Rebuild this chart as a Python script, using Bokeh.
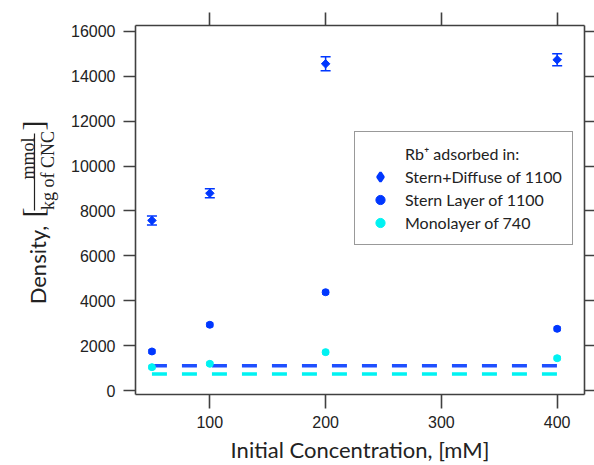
import math
from bokeh.plotting import figure
from bokeh.layouts import row
from bokeh.models import (Range1d, LinearAxis, FixedTicker, ColumnDataSource, Whisker,
                          TeeHead, Legend, LegendItem, CustomJSTickFormatter)
from bokeh.core.properties import value
from bokeh.embed import file_html
from bokeh.resources import INLINE

# ---- data ----
conc = [50, 100, 200, 400]                      # Initial concentration, mM
stern_diffuse = [7580, 8790, 14560, 14740]      # Stern+Diffuse of 1100
stern_diffuse_err = [200, 200, 310, 270]
stern_layer = [1740, 2930, 4380, 2750]          # Stern Layer of 1100
stern_layer_err = [80, 80, 80, 80]
monolayer = [1040, 1190, 1710, 1440]            # Monolayer of 740
monolayer_err = [70, 70, 70, 70]
stern_capacity = 1100
mono_capacity = 740
x_ticks = [100, 200, 300, 400]
y_ticks = [0, 2000, 4000, 6000, 8000, 10000, 12000, 14000, 16000]

legend_title = "Rb\u207a adsorbed in:"
legend_labels = ["Stern+Diffuse of 1100", "Stern Layer of 1100", "Monolayer of 740"]
x_title = "Initial Concentration, [mM]"
y_title_main = "Density,"
y_title_num = "mmol"
y_title_den = "kg of CNC"

BLUE = "#0037ff"
BLUE_LINE = "#1f4fff"
CYAN = "#00f2f2"
AXIS = "#404040"
TEXT = "#222222"

H = 465
LW = 60
TOP, BOTTOM = 25, 71          # borders above / below the plotting frame

# ---------------- main plot ----------------
p = figure(width=534, height=H, output_backend="svg", toolbar_location=None,
           x_range=Range1d(35.8, 423.6), y_range=Range1d(-178, 16267),
           min_border_left=75, min_border_right=0, min_border_top=TOP,
           min_border_bottom=BOTTOM, x_axis_location=None, y_axis_location=None)
p.grid.visible = False
p.outline_line_color = None
p.background_fill_color = "white"
p.border_fill_color = "white"

blank = CustomJSTickFormatter(code="return ''")


def style(ax, tick_out, show_labels=True, standoff=8):
    ax.axis_line_color = AXIS
    ax.axis_line_width = 1.6
    ax.major_tick_line_color = AXIS
    ax.major_tick_line_width = 1.6
    ax.major_tick_out = tick_out
    ax.major_tick_in = 0
    ax.minor_tick_line_color = None
    ax.major_label_text_font = "Liberation Sans"
    ax.major_label_text_color = TEXT
    if show_labels:
        ax.major_label_text_font_size = "16px"
        ax.major_label_standoff = standoff
    else:
        ax.formatter = blank
        ax.major_label_text_font_size = "1px"
        ax.major_label_standoff = 0


bottom = LinearAxis(ticker=FixedTicker(ticks=x_ticks, minor_ticks=[]), axis_label=x_title)
style(bottom, 14, True, 7)
bottom.axis_label_text_font = "Lato"
bottom.axis_label_text_font_size = "22px"
bottom.axis_label_text_font_style = "normal"
bottom.axis_label_text_color = TEXT
bottom.axis_label_standoff = 5
p.add_layout(bottom, "below")

left = LinearAxis(ticker=FixedTicker(ticks=y_ticks, minor_ticks=[]))
style(left, 12, True, 8)
p.add_layout(left, "left")

top = LinearAxis(ticker=FixedTicker(ticks=x_ticks, minor_ticks=[]))
style(top, 13, False)
p.add_layout(top, "above")

right = LinearAxis(ticker=FixedTicker(ticks=y_ticks, minor_ticks=[]))
style(right, 10, False)
p.add_layout(right, "right")

# ---- capacity lines ----
p.line([conc[0], conc[-1]], [stern_capacity, stern_capacity], line_color=BLUE_LINE,
       line_width=3.5, line_dash="15 15")
p.line([conc[0], conc[-1]], [mono_capacity, mono_capacity], line_color=CYAN,
       line_width=3.5, line_dash="15 15")


def err_src(vals, errs):
    return ColumnDataSource(dict(x=conc, upper=[v + e for v, e in zip(vals, errs)],
                                 lower=[v - e for v, e in zip(vals, errs)]))


for vals, errs, col, head in [(stern_diffuse, stern_diffuse_err, BLUE, 10),
                              (stern_layer, stern_layer_err, BLUE, 7),
                              (monolayer, monolayer_err, CYAN, 7)]:
    w = Whisker(source=err_src(vals, errs), base="x", upper="upper", lower="lower",
                line_color=col, line_width=1.5,
                upper_head=TeeHead(size=head, line_color=col, line_width=1.5),
                lower_head=TeeHead(size=head, line_color=col, line_width=1.5))
    p.add_layout(w)

p.scatter(conc, stern_diffuse, marker="square", angle=math.pi / 4, size=6,
          fill_color=BLUE, line_color=BLUE)
r_sl = p.scatter(conc, stern_layer, marker="circle", size=7, fill_color=BLUE, line_color=BLUE)
r_ml = p.scatter(conc, monolayer, marker="circle", size=7, fill_color=CYAN, line_color=CYAN)
# legend-only renderers (zero size in the plot; legend glyph size comes from the legend box)
r_sd_leg = p.scatter(conc, stern_diffuse, marker="diamond", size=0,
                     fill_color=BLUE, line_color=BLUE, line_width=2.5)
r_title = p.scatter(conc, stern_diffuse, marker="circle", size=0,
                    fill_alpha=0, line_alpha=0)

legend = Legend(items=[LegendItem(label=legend_title, renderers=[r_title]),
                       LegendItem(label=legend_labels[0], renderers=[r_sd_leg]),
                       LegendItem(label=legend_labels[1], renderers=[r_sl]),
                       LegendItem(label=legend_labels[2], renderers=[r_ml])],
                location=(219, 149), orientation="vertical",
                glyph_width=30, glyph_height=23, label_height=23, spacing=0,
                padding=10, margin=0, label_standoff=10,
                label_text_font="Lato", label_text_font_size="16px",
                label_text_color=TEXT, border_line_color="#333333",
                border_line_width=1.5, background_fill_color="white",
                background_fill_alpha=1)
p.add_layout(legend)

# ---------------- y-axis title panel ----------------
# its frame is aligned with the main frame (screen y TOP .. H-BOTTOM); data y = H - screen y
lf = figure(width=LW, height=H, output_backend="svg", toolbar_location=None,
            x_range=Range1d(0, LW), y_range=Range1d(BOTTOM, H - TOP),
            min_border_left=0, min_border_right=0, min_border_top=TOP,
            min_border_bottom=BOTTOM, x_axis_location=None, y_axis_location=None)
lf.grid.visible = False
lf.outline_line_color = None
lf.background_fill_color = "white"
lf.border_fill_color = "white"

rot = math.pi / 2
lf.text(x=[37], y=[H - 264.5], text=[y_title_main], angle=rot, text_font=value("Lato"),
        text_font_size="22px", text_align="center", text_baseline="alphabetic",
        text_color=TEXT)
lf.text(x=[27], y=[H - 158], text=[y_title_num], angle=rot,
        text_font=value("Liberation Serif"), text_font_size="18px", text_align="center",
        text_baseline="alphabetic", text_color=TEXT)
lf.text(x=[47], y=[H - 170], text=[y_title_den], angle=rot,
        text_font=value("Liberation Serif"), text_font_size="18px", text_align="center",
        text_baseline="alphabetic", text_color=TEXT)
lf.text(x=[31.5, 31.5], y=[H - 212, H - 125], text=["[", "]"], angle=rot,
        text_font=value("Liberation Serif"), text_font_size="30px", text_align="center",
        text_baseline="middle", text_color=TEXT)
lf.line(x=[34, 34], y=[H - 210, H - 133], line_color=TEXT, line_width=1.2)

layout = row(lf, p)
open("out.html", "w").write(file_html(layout, INLINE))
